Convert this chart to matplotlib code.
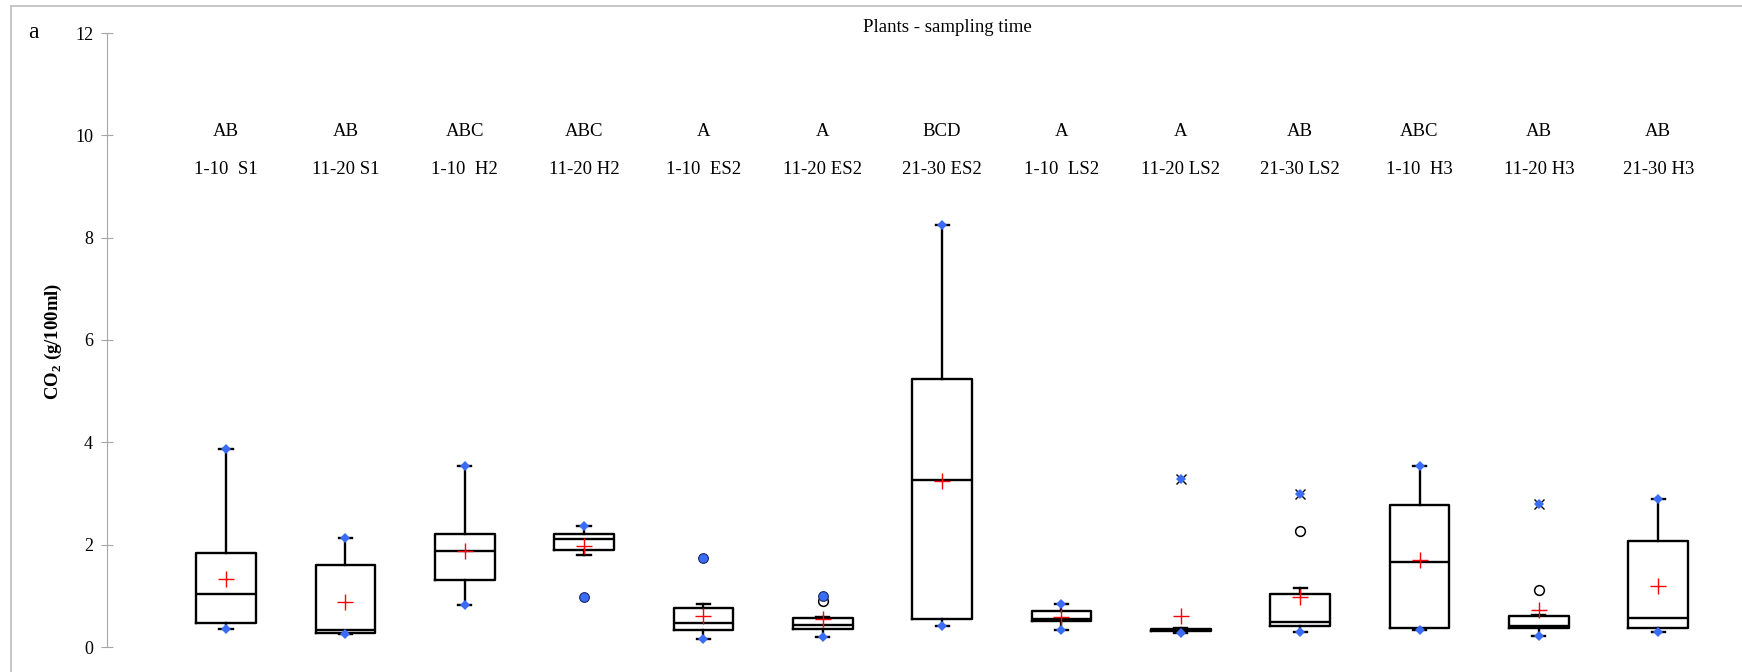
import matplotlib
matplotlib.use("Agg")
import matplotlib.pyplot as plt
from matplotlib.lines import Line2D

# ---------------- data ----------------
labels = ["1-10  S1", "11-20 S1", "1-10  H2", "11-20 H2", "1-10  ES2", "11-20 ES2",
          "21-30 ES2", "1-10  LS2", "11-20 LS2", "21-30 LS2", "1-10  H3", "11-20 H3", "21-30 H3"]
groups = ["AB", "AB", "ABC", "ABC", "A", "A", "BCD", "A", "A", "AB", "ABC", "AB", "AB"]

whis_lo = [0.35, 0.25, 0.82, 1.80, 0.16, 0.20, 0.42, 0.34, 0.27, 0.29, 0.33, 0.215, 0.29]
q1      = [0.46, 0.28, 1.31, 1.89, 0.33, 0.36, 0.556, 0.50, 0.31, 0.41, 0.37, 0.37, 0.37]
medians = [1.045, 0.33, 1.87, 2.12, 0.46, 0.43, 3.26, 0.54, 0.33, 0.49, 1.66, 0.42, 0.575]
q3      = [1.84, 1.61, 2.20, 2.20, 0.76, 0.57, 5.23, 0.71, 0.35, 1.045, 2.77, 0.60, 2.08]
whis_hi = [3.86, 2.13, 3.54, 2.36, 0.85, 0.59, 8.25, 0.835, 0.37, 1.16, 3.54, 0.62, 2.89]
means   = [1.32, 0.87, 1.88, 1.98, 0.61, 0.54, 3.24, 0.58, 0.61, 0.98, 1.70, 0.72, 1.19]
minimum = [0.35, 0.25, 0.82, 0.98, 0.16, 0.20, 0.42, 0.34, 0.27, 0.29, 0.33, 0.215, 0.29]
maximum = [3.86, 2.13, 3.54, 2.36, 1.74, 0.99, 8.25, 0.835, 3.29, 3.00, 3.54, 2.79, 2.89]
outliers_open = [[], [], [], [], [], [0.90], [], [], [], [2.26], [], [1.11], []]
extremes = [[], [], [], [], [], [], [], [], [3.29], [3.00], [], [2.79], []]

yticks = [0, 2, 4, 6, 8, 10, 12]
title = "Plants - sampling time"
ylabel = r"CO$_\mathbf{2}$ (g/100ml)"

# ---------------- style ----------------
plt.rcParams["font.family"] = ["Liberation Serif", "DejaVu Serif"]
plt.rcParams["mathtext.fontset"] = "custom"
plt.rcParams["mathtext.rm"] = "Liberation Serif"
plt.rcParams["mathtext.bf"] = "Liberation Serif:bold"

W, H = 1742, 672
fig = plt.figure(figsize=(W / 100, H / 100), dpi=100)

y0_px, y12_px = 647, 33
ppu = (y0_px - y12_px) / 12.0
ybot = -(H - y0_px) / ppu
ax_left = 107 / W
ax = fig.add_axes([ax_left, 0, 1 - ax_left, (H - y12_px) / H])
ax.set_ylim(ybot, 12)

x1_px, dx_px = 226, 119.35
xl = 1 - (x1_px - 107) / dx_px
xr = xl + (W - 107) / dx_px
ax.set_xlim(xl, xr)

pos = list(range(1, len(labels) + 1))
stats = []
for i in range(len(labels)):
    stats.append(dict(med=medians[i], q1=q1[i], q3=q3[i], whislo=whis_lo[i],
                      whishi=whis_hi[i], fliers=[], label=labels[i]))

ax.bxp(stats, positions=pos, widths=0.5, showfliers=False, showcaps=True,
       boxprops=dict(color="black", linewidth=1.7),
       medianprops=dict(color="black", linewidth=1.7),
       whiskerprops=dict(color="black", linewidth=1.7),
       capprops=dict(color="black", linewidth=1.7),
       capwidths=0.11, zorder=2)

blue = "#3a6cf5"
for i, p in enumerate(pos):
    for v in outliers_open[i]:
        ax.plot(p, v, "o", mfc="white", mec="black", ms=7, mew=1.1, zorder=3)
    for v, w in ((minimum[i], whis_lo[i]), (maximum[i], whis_hi[i])):
        if v in extremes[i]:
            ax.plot(p, v, "x", color="black", ms=7, mew=1.0, zorder=3)
            ax.plot(p, v, "D", color=blue, ms=5.5, mew=0, zorder=4)
        elif abs(v - w) < 1e-9:
            ax.plot(p, v, "D", color=blue, ms=5.5, mew=0, zorder=4)
        else:
            ax.plot(p, v, "o", mfc=blue, mec="#1a2a6a", ms=7, mew=0.8, zorder=4)
    ax.plot(p, means[i], "+", color="red", ms=12, mew=1.0, zorder=5)
    ax.text(p, 10.08, groups[i], ha="center", va="center", fontsize=13.5)
    ax.text(p, 9.33, labels[i], ha="center", va="center", fontsize=13.5)

for s in ["top", "right", "bottom"]:
    ax.spines[s].set_visible(False)
ax.spines["left"].set_color("#a6a6a6")
ax.spines["left"].set_bounds(0, 12)
ax.set_yticks(yticks)
ax.set_yticklabels([str(t) for t in yticks])
ax.tick_params(axis="y", direction="inout", length=8, color="#a6a6a6", labelsize=13, pad=6)
ax.set_xticks([])
ax.patch.set_alpha(0)

fig.text(947 / W, 1 - 27 / H, title, ha="center", va="center", fontsize=13.5)
fig.text(33 / W, 1 - 33 / H, "a", ha="center", va="center", fontsize=17)
fig.text(53 / W, 1 - 341 / H, ylabel, ha="center", va="center", rotation=90,
         fontsize=13.5, fontweight="bold")

fx = 11 / W
fy = 1 - 6 / H
fig.add_artist(Line2D([fx, 1], [fy, fy], transform=fig.transFigure, color="#bdbdbd", lw=1.2))
fig.add_artist(Line2D([fx, fx], [0, fy], transform=fig.transFigure, color="#bdbdbd", lw=1.2))

fig.savefig("out.png", dpi=100)
